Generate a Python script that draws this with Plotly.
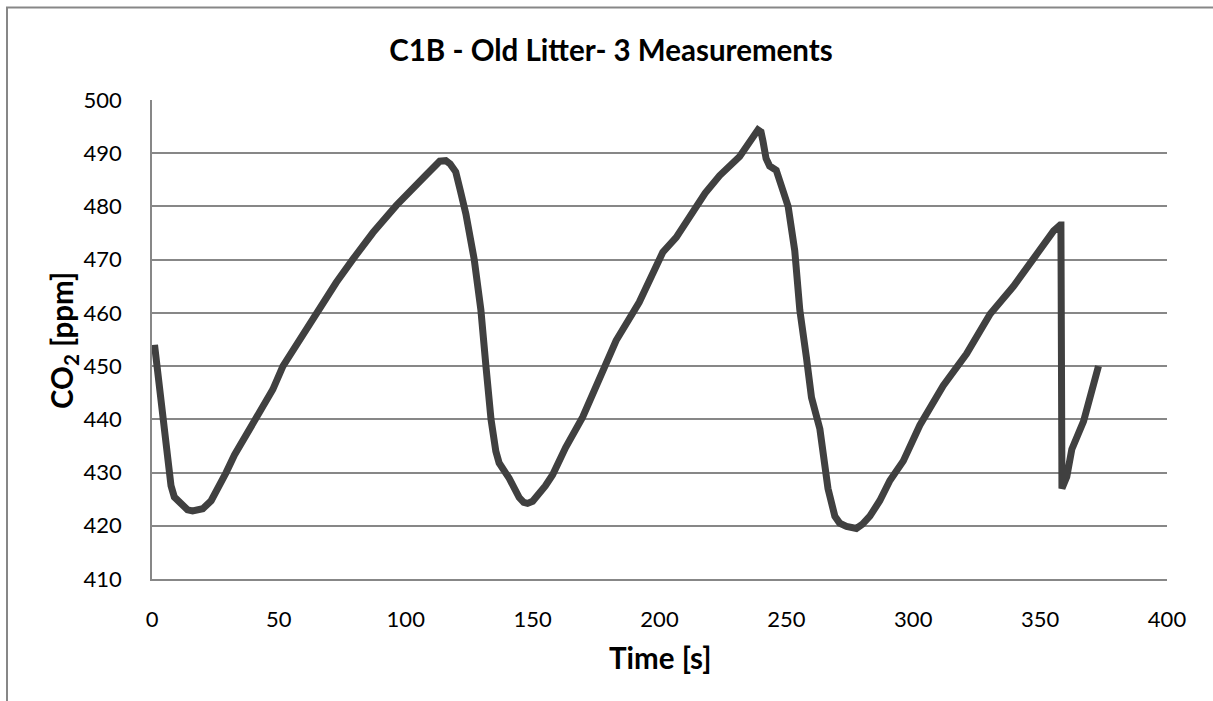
import plotly.graph_objects as go

# Data
time_s = [1, 2, 3, 4.2, 5.5, 6.8, 7.5, 8.8, 11.4, 14, 16, 20, 23.3, 25.9, 29.2, 32.5, 41, 47.6,
          51.6, 58.2, 64.7, 72.6, 79.2, 87.1, 96.3, 104.2, 108.2, 113.4, 115.8, 117.5, 119.7,
          121.5, 123.7, 127, 129.6, 131.6, 133.6, 135.5, 136.8, 140.8, 142.5, 144.7, 146.5,
          148, 150, 152.6, 155, 157.9, 163, 169.7, 176, 182.9, 192, 201.3, 206.6, 213.2, 218,
          223.7, 231.6, 238.8, 240, 240.8, 242, 243.4, 246, 248.7, 250.7, 253.3, 255.3, 257.9,
          259.9, 263.2, 265.1, 266.4, 269.1, 271, 273.7, 277.6, 280, 282.9, 286.8, 290.8,
          296.1, 302.6, 311.8, 321, 330.3, 339.5, 347.4, 355.3, 357.9, 358.2, 358.6, 360.5,
          362.5, 367.1, 373]
co2_ppm = [454, 450, 445, 440, 434.5, 430, 427.5, 425.4, 424, 423, 422.8, 423.2, 424.7, 426.8,
           430, 433.3, 440, 445.6, 450, 454.9, 460.1, 465.7, 470.1, 475.1, 480.2, 483.8, 486,
           488.5, 488.6, 488, 486.5, 483, 478.6, 470, 460.6, 450, 440, 434, 431.8, 428.9, 427,
           425.3, 424.4, 424.2, 424.6, 426, 427.5, 429.6, 434.7, 440.4, 447.6, 454.8, 462,
           471.4, 474.2, 479.3, 482.5, 485.8, 489.4, 494.4, 494, 492.2, 489, 487.6, 486.8,
           482.9, 480, 471.7, 460.5, 451.6, 444.1, 438.2, 432.2, 427, 421.8, 420.5, 419.9,
           419.5, 420.3, 421.8, 424.7, 428.5, 432.2, 438.9, 446.3, 452.3, 459.8, 465, 470.2,
           475.4, 476.5, 476.5, 427, 429.2, 434.4, 439.6, 450]

x_ticks = [0, 50, 100, 150, 200, 250, 300, 350, 400]
y_ticks = [410, 420, 430, 440, 450, 460, 470, 480, 490, 500]

FONT = "Lato, 'Open Sans', sans-serif"
GRID = "#878787"

W, H = 1213, 701
L, R, T, B = 152, 46, 100, 122
pw, ph = W - L - R, H - T - B


def px_x(px):
    return (px - L) / pw


def px_y(py):
    return (H - B - py) / ph


fig = go.Figure()
fig.add_trace(go.Scatter(x=time_s, y=co2_ppm, mode="lines",
                         line=dict(color="#404040", width=7),
                         hoverinfo="skip", showlegend=False))

fig.update_layout(
    width=W, height=H,
    margin=dict(l=L, r=R, t=T, b=B, autoexpand=False),
    paper_bgcolor="white", plot_bgcolor="white",
    font=dict(family=FONT, color="#000000"),
    title=dict(text="<b>C1B - Old Litter- 3 Measurements</b>",
               font=dict(family=FONT, size=29.5, color="#000000"),
               xref="container", yref="container",
               x=611 / W, y=1 - 51 / H, xanchor="center", yanchor="middle"),
    xaxis=dict(range=[0, 400], tickvals=x_ticks, ticks="", showgrid=False,
               zeroline=False, showline=True, linecolor=GRID, linewidth=1.5,
               tickfont=dict(family=FONT, size=22, color="#000000"),
               ticklabelstandoff=20, fixedrange=True),
    yaxis=dict(range=[410, 500], tickvals=y_ticks, ticks="", showgrid=True,
               gridcolor=GRID, gridwidth=1.5, zeroline=False, showline=True,
               linecolor=GRID, linewidth=1.5,
               tickfont=dict(family=FONT, size=22, color="#000000"),
               ticklabelstandoff=24, fixedrange=True),
    annotations=[
        dict(text="<b>Time [s]</b>", xref="paper", yref="paper",
             x=px_x(660), y=px_y(657), showarrow=False,
             xanchor="center", yanchor="middle",
             font=dict(family=FONT, size=29.5, color="#000000")),
        dict(text="<b>CO<sub>2</sub> [ppm]</b>", xref="paper", yref="paper",
             x=px_x(63), y=px_y(341), showarrow=False, textangle=-90,
             xanchor="center", yanchor="middle",
             font=dict(family=FONT, size=29.5, color="#000000")),
    ],
    shapes=[
        dict(type="rect", xref="paper", yref="paper",
             x0=px_x(7), x1=px_x(1240), y0=px_y(740), y1=px_y(7.5),
             line=dict(color=GRID, width=2), fillcolor="rgba(0,0,0,0)",
             layer="below"),
    ],
)

fig.write_html("out.html")
